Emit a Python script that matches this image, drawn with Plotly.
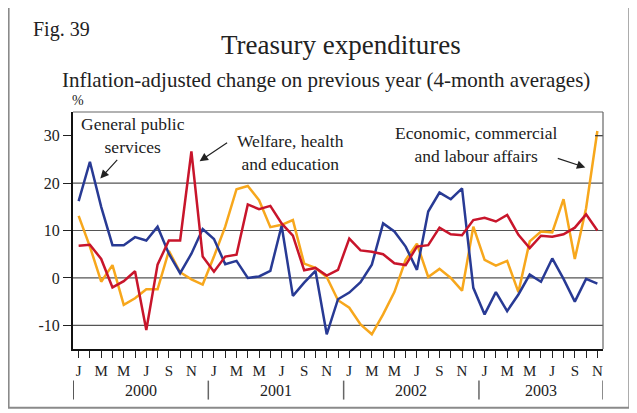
import plotly.graph_objects as go

# ---- data ----
month_letters = ["J", "F", "M", "A", "M", "J", "J", "A", "S", "O", "N", "D"]
years = ["2000", "2001", "2002", "2003"]
n_months = 47  # Jan 2000 .. Nov 2003

general_public = [16.2, 24.5, 15.0, 6.9, 6.9, 8.6, 7.9, 10.8, 5.1, 1.0, 5.1, 10.3,
                  8.2, 2.9, 3.6, 0.0, 0.3, 1.5, 11.0, -3.8, -1.0, 1.5, -11.9, -4.5,
                  -3.1, -0.9, 2.8, 11.5, 9.8, 6.6, 1.7, 14.0, 18.0, 16.6, 18.9, -2.1,
                  -7.7, -3.0, -7.0, -3.5, 0.7, -0.8, 4.1, -0.2, -5.0, -0.2, -1.2]
welfare = [6.8, 7.0, 4.0, -2.0, -0.7, 1.4, -11.0, 2.8, 7.9, 7.9, 26.7, 4.5,
           1.3, 4.5, 4.9, 15.5, 14.5, 15.2, 11.5, 8.9, 1.6, 2.1, 0.5, 1.7,
           8.3, 5.8, 5.5, 5.0, 3.1, 2.7, 6.6, 6.9, 10.6, 9.2, 9.0, 12.2,
           12.7, 11.9, 13.3, 9.1, 6.3, 8.9, 8.7, 9.2, 10.6, 13.4, 10.0]
economic = [13.1, 6.6, -0.8, 2.7, -5.7, -4.3, -2.4, -2.4, 5.7, 1.2, -0.3, -1.4,
            4.5, 10.8, 18.7, 19.4, 16.4, 10.7, 11.2, 12.2, 3.0, 2.1, 0.2, -4.7,
            -6.3, -9.8, -11.9, -7.7, -3.0, 3.8, 7.2, 0.2, 1.9, 0.0, -2.7, 10.8,
            3.8, 2.6, 3.6, -3.0, 7.7, 9.8, 9.6, 16.6, 4.0, 14.7, 31.0]
y_ticks = [-10, 0, 10, 20, 30]
y_tick_labels = ["-10", "0", "10", "20", "30"]
grid_values = [-10, 0, 10, 20]

x = list(range(n_months))
tick_text = [month_letters[i % 12] if i % 2 == 0 else "" for i in x]

# page offset (browser body margin) and plot area in screen pixels
OFF = 8
L, R, T, B = 72.7 - OFF, 602.7 - OFF, 111.7 - OFF, 349.3 - OFF
W, H = 637 - OFF, 413 - OFF


def px(v):
    return (v - OFF - L) / (R - L)


def py(v):
    return (B - (v - OFF)) / (B - T)


SERIF = "Liberation Serif, Times New Roman, serif"
BLUE = "#283a94"
RED = "#c8152b"
ORANGE = "#f7a71c"

fig = go.Figure()
fig.add_trace(go.Scatter(x=x, y=economic, mode="lines", line=dict(color=ORANGE, width=2.5),
                         name="Economic, commercial and labour affairs"))
fig.add_trace(go.Scatter(x=x, y=general_public, mode="lines", line=dict(color=BLUE, width=2.5),
                         name="General public services"))
fig.add_trace(go.Scatter(x=x, y=welfare, mode="lines", line=dict(color=RED, width=2.5),
                         name="Welfare, health and education"))

shapes = []
for g in grid_values:
    shapes.append(dict(type="line", xref="paper", yref="y", x0=0, x1=1, y0=g, y1=g,
                       line=dict(color="#555555", width=1.2), layer="below"))
shapes.append(dict(type="line", xref="paper", yref="y", x0=1 - 8 / (R - L), x1=1, y0=30, y1=30,
                   line=dict(color="#333333", width=1.2)))
shapes.append(dict(type="line", xref="paper", yref="paper", x0=0, x1=1, y0=1, y1=1,
                   line=dict(color="#666666", width=1.2)))
shapes.append(dict(type="line", xref="paper", yref="paper", x0=1, x1=1, y0=0, y1=1,
                   line=dict(color="#666666", width=1.2)))
for i, sep in enumerate([-0.5, 11.5, 23.5, 35.5, 46.5]):
    shapes.append(dict(type="line", xref="x", yref="paper", x0=sep, x1=sep,
                       y0=py(381), y1=py(400),
                       line=dict(color="#222222" if i == 0 else "#666666", width=1.5)))
shapes.append(dict(type="rect", xref="paper", yref="paper",
                   x0=px(8.3), x1=px(629), y0=py(408.3), y1=py(5),
                   line=dict(color="#8a8a8a", width=2)))

annotations = []
year_centers = [5.5, 17.5, 29.5, 41.0]
for yl, c in zip(years, year_centers):
    annotations.append(dict(text=yl, x=c, xref="x", y=py(391), yref="paper", showarrow=False,
                            font=dict(family=SERIF, size=16, color="#222222"),
                            xanchor="center", yanchor="middle"))

annotations += [
    dict(text="Fig. 39", x=px(31), y=py(29), xref="paper", yref="paper", showarrow=False,
         xanchor="left", yanchor="middle", font=dict(family=SERIF, size=20, color="#222222")),
    dict(text="Treasury expenditures", x=px(341), y=py(45), xref="paper", yref="paper",
         showarrow=False, xanchor="center", yanchor="middle",
         font=dict(family=SERIF, size=27, color="#222222")),
    dict(text="Inflation-adjusted change on previous year (4-month averages)", x=px(326), y=py(79.5),
         xref="paper", yref="paper", showarrow=False, xanchor="center", yanchor="middle",
         font=dict(family=SERIF, size=21, color="#222222")),
    dict(text="%", x=px(77.5), y=py(100.5), xref="paper", yref="paper", showarrow=False,
         xanchor="center", yanchor="middle", font=dict(family=SERIF, size=14, color="#222222")),
]

lab_font = dict(family=SERIF, size=17.5, color="#222222")
annotations += [
    dict(text="General public<br>services", x=px(133), y=py(135), xref="paper", yref="paper",
         showarrow=False, xanchor="center", yanchor="middle", font=lab_font, align="center"),
    dict(text="Welfare, health<br>and education", x=px(290), y=py(152), xref="paper", yref="paper",
         showarrow=False, xanchor="center", yanchor="middle", font=lab_font, align="center"),
    dict(text="Economic, commercial<br>and labour affairs", x=px(476), y=py(144), xref="paper",
         yref="paper", showarrow=False, xanchor="center", yanchor="middle", font=lab_font,
         align="center"),
]

arrows = [((100, 178.3), (118.3, 158.3)),
          ((199.3, 161), (228.3, 141.7)),
          ((585, 167.3), (556, 157.7))]
for (hx, hy), (tx, ty) in arrows:
    annotations.append(dict(text="", x=px(hx), y=py(hy), xref="paper", yref="paper",
                            ax=tx - hx, ay=ty - hy, axref="pixel", ayref="pixel",
                            showarrow=True, arrowhead=2, arrowsize=1.4, arrowwidth=1.2,
                            arrowcolor="#222222"))

fig.update_layout(
    width=W, height=H,
    margin=dict(l=L, r=W - R, t=T, b=H - B, pad=0),
    paper_bgcolor="white", plot_bgcolor="white",
    showlegend=False,
    shapes=shapes, annotations=annotations,
    xaxis=dict(range=[-0.5, 46.5], tickmode="array", tickvals=x, ticktext=tick_text,
               ticks="outside", ticklen=7, tickwidth=1.2, tickcolor="#222222",
               showgrid=False, zeroline=False, showline=True, linecolor="#111111", linewidth=2,
               tickfont=dict(family=SERIF, size=15, color="#222222"), fixedrange=True),
    yaxis=dict(range=[-15, 35], tickmode="array", tickvals=y_ticks, ticktext=y_tick_labels,
               ticks="outside", ticklen=8, tickwidth=1.2, tickcolor="#222222",
               showgrid=False, zeroline=False, showline=True, linecolor="#111111", linewidth=2,
               tickfont=dict(family=SERIF, size=16, color="#222222"), fixedrange=True),
)

fig.write_html("out.html")
